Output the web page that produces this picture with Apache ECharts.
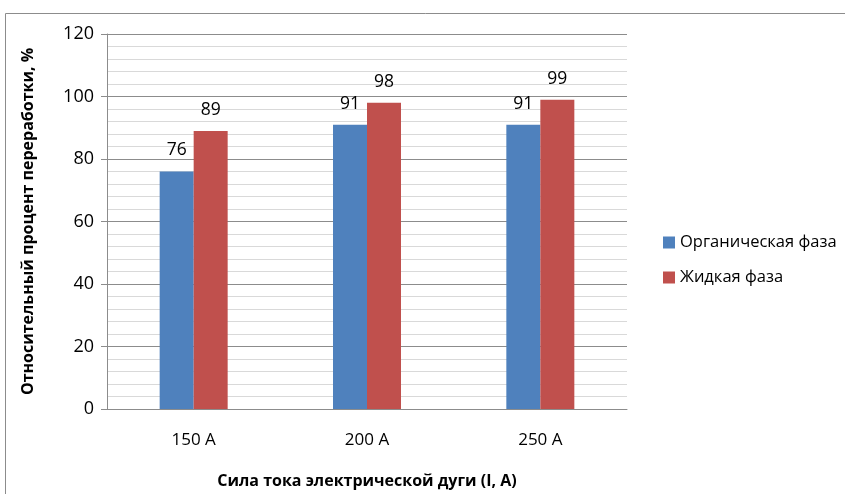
<!DOCTYPE html>
<html><head><meta charset="utf-8">
<script src="https://cdn.jsdelivr.net/npm/echarts@6/dist/echarts.min.js"></script>
<style>html,body{margin:0;padding:0;background:#fff}#c{width:845px;height:494px}</style>
</head><body><div id="c"></div>
<script>
const categories = ['150 A', '200 A', '250 A'];
const organic = [76, 91, 91];
const liquid = [89, 98, 99];
const seriesNames = ['Органическая фаза', 'Жидкая фаза'];
const yTitle = 'Относительный процент переработки, %';
const xTitle = 'Сила тока электрической дуги (I, A)';

const font = '"Open Sans", "Noto Sans", sans-serif';
const chart = echarts.init(document.getElementById('c'), null, {renderer: 'canvas'});
chart.setOption({
  animation: false,
  textStyle: {fontFamily: font},
  graphic: [{
    type: 'rect', shape: {x: 5.5, y: 13.5, width: 900, height: 600},
    style: {fill: 'none', stroke: '#8c8c8c', lineWidth: 1}, silent: true, z: -1
  }],
  grid: {left: 107, right: 218, top: 34, bottom: 85, containLabel: false},
  legend: {
    orient: 'vertical', left: 658, top: 229, itemGap: 18,
    itemWidth: 12, itemHeight: 12, icon: 'rect',
    textStyle: {fontSize: 16.5, color: '#000', fontFamily: font},
    data: seriesNames
  },
  xAxis: {
    type: 'category', data: categories,
    axisLine: {lineStyle: {color: '#8c8c8c'}},
    axisTick: {show: false},
    axisLabel: {color: '#000', fontSize: 17, margin: 23, fontFamily: font},
    name: xTitle, nameLocation: 'middle', nameGap: 64,
    nameTextStyle: {fontWeight: 'bold', fontSize: 16, color: '#000', fontFamily: font}
  },
  yAxis: {
    type: 'value', min: 0, max: 120, interval: 20,
    axisLine: {show: true, lineStyle: {color: '#8c8c8c'}},
    axisTick: {show: true, length: 6, lineStyle: {color: '#8c8c8c'}},
    axisLabel: {color: '#000', fontSize: 18, margin: 13, fontFamily: font},
    splitLine: {lineStyle: {color: '#8c8c8c'}},
    minorTick: {show: false, splitNumber: 5},
    minorSplitLine: {show: true, lineStyle: {color: '#d9d9d9'}},
    name: yTitle, nameLocation: 'middle', nameGap: 71,
    nameTextStyle: {fontWeight: 'bold', fontSize: 16, color: '#000', fontFamily: font}
  },
  series: [
    {name: seriesNames[0], type: 'bar', data: organic, barWidth: 34, barGap: '0%',
     itemStyle: {color: '#4f81bd'},
     label: {show: true, position: 'top', distance: 12, color: '#000', fontSize: 17.5, fontFamily: font}},
    {name: seriesNames[1], type: 'bar', data: liquid, barWidth: 34, barGap: '0%',
     itemStyle: {color: '#c0504d'},
     label: {show: true, position: 'top', distance: 12, color: '#000', fontSize: 17.5, fontFamily: font}}
  ]
});
</script></body></html>
